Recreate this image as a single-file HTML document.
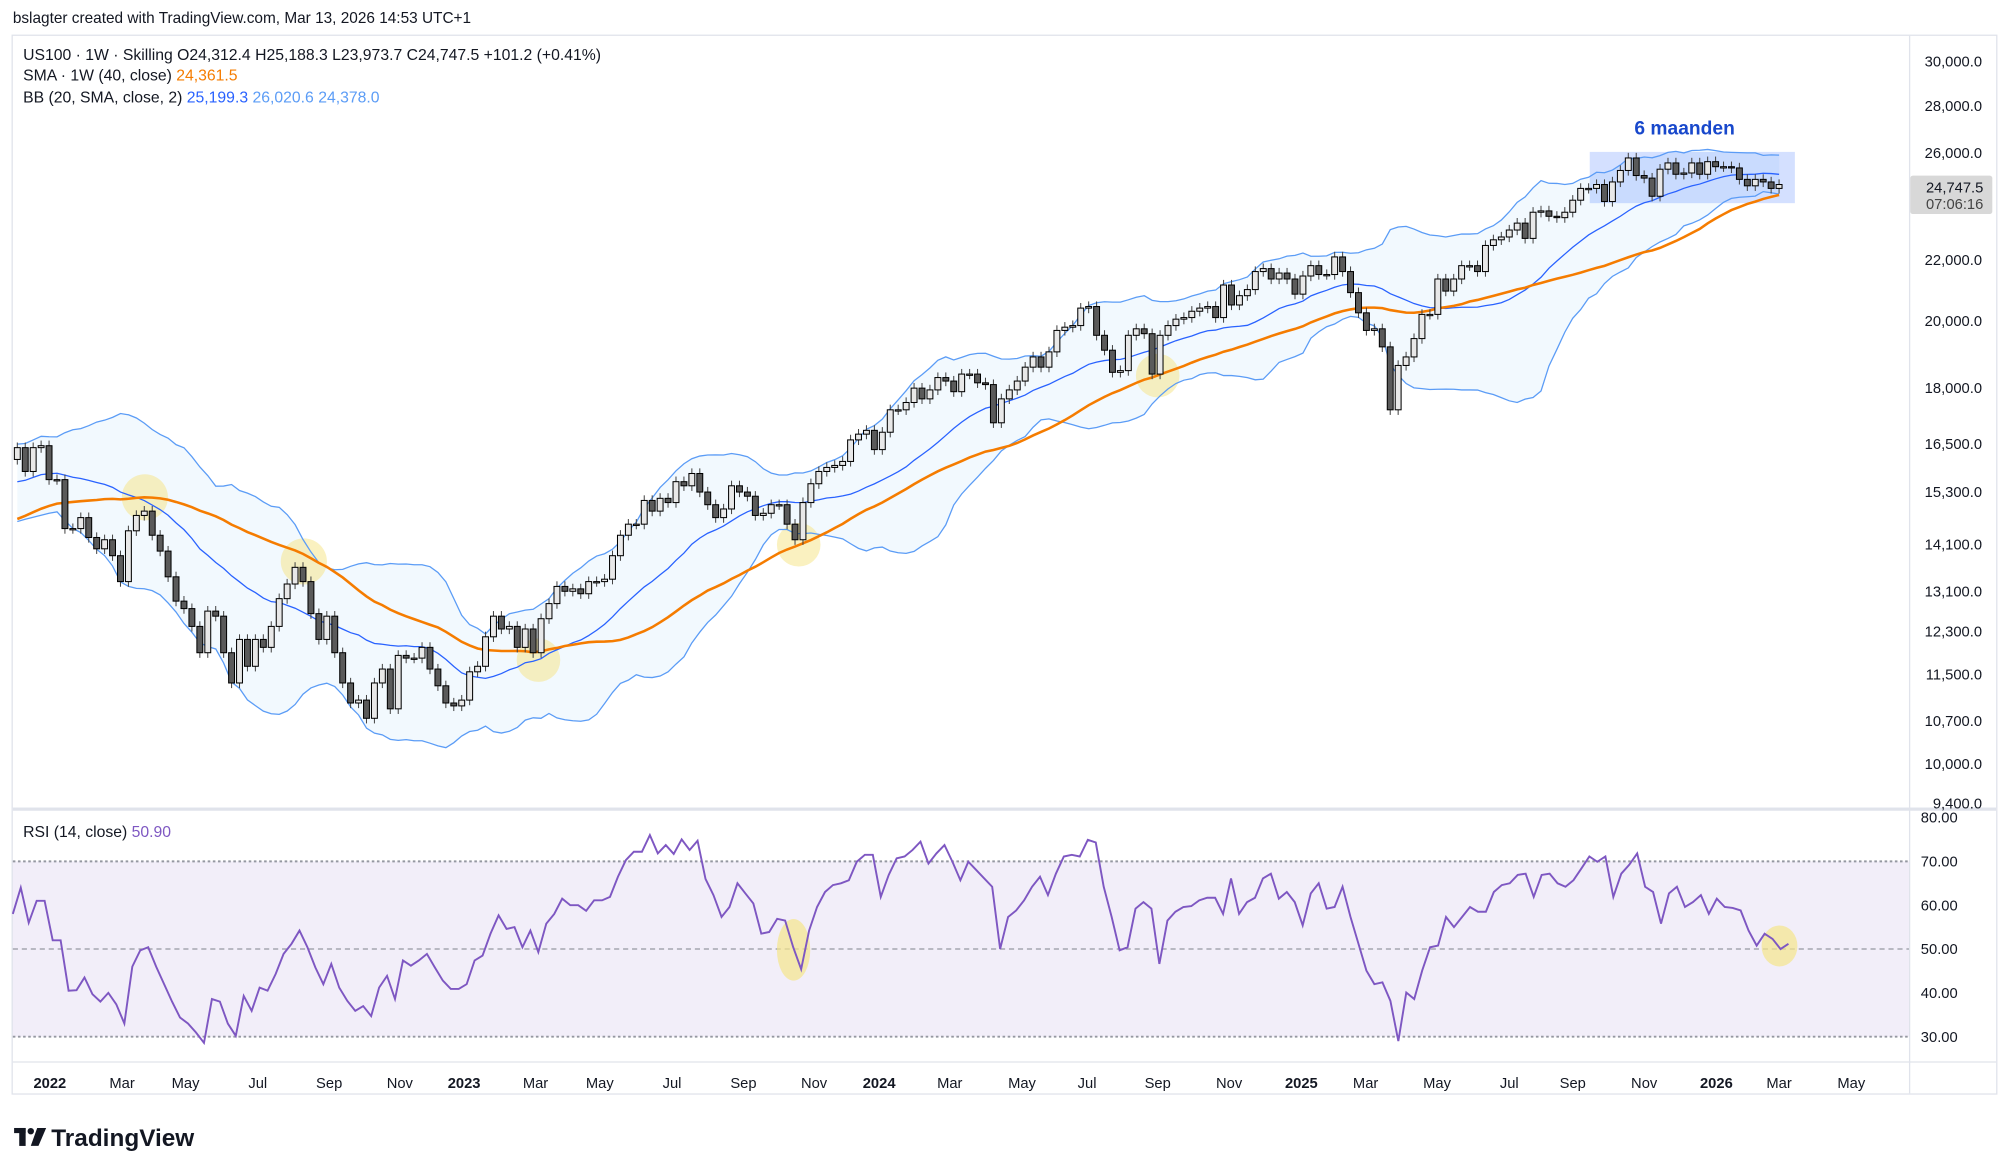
<!DOCTYPE html>
<html><head><meta charset="utf-8"><style>
html,body{margin:0;padding:0;background:#fff;}
svg{display:block;font-family:"Liberation Sans",sans-serif;}
</style></head><body>
<svg id="chart" width="2000" height="1169" viewBox="0 0 1560 912" preserveAspectRatio="none" xmlns="http://www.w3.org/2000/svg">
<rect x="0" y="0" width="1560" height="912" fill="#fff"/>
<text x="10" y="18" font-size="12" fill="#131722">bslagter created with TradingView.com, Mar 13, 2026 14:53 UTC+1</text>
<rect x="9.5" y="27.5" width="1548" height="826" fill="none" stroke="#e0e3eb"/>
<g id="panes"></g>
<text x="18" y="47" font-size="12.3" fill="#131722">US100 · 1W · Skilling  O24,312.4  H25,188.3  L23,973.7  C24,747.5  +101.2 (+0.41%)</text>
<text x="18" y="63" font-size="12.3" fill="#131722">SMA · 1W (40, close)  <tspan fill="#f57c00">24,361.5</tspan></text>
<text x="18" y="80" font-size="12.3" fill="#131722">BB (20, SMA, close, 2)  <tspan fill="#2962ff">25,199.3</tspan>  <tspan fill="#5b9cf6">26,020.6</tspan>  <tspan fill="#5b9cf6">24,378.0</tspan></text>
<text x="18" y="653" font-size="12.3" fill="#131722">RSI (14, close)  <tspan fill="#7e57c2">50.90</tspan></text>
<text x="1314" y="105" font-size="15" font-weight="bold" fill="#1848cc" text-anchor="middle">6 maanden</text>
<g>
<rect x="11" y="880" width="9" height="4" fill="#131722"/><rect x="15" y="880" width="5" height="14" fill="#131722"/><circle cx="24" cy="882.5" r="2.5" fill="#131722"/><polygon points="29,880 36,880 30,894 24,894" fill="#131722"/>
<text x="40" y="894" font-size="19" font-weight="bold" fill="#131722">TradingView</text>
</g>
</svg>
<script>
var preCloses=[12800,13100,13200,13000,13400,13600,13800,13900,13700,13500,13300,13700,13800,13700,14000,14300,14500,14700,14800,14900,15100,15000,15100,15200,15300,15400,15500,15300,15200,15000,15100,15300,15600,15700,16000,16300,16400,16100,16000];
var closes=[16400,15800,16400,16450,15600,15600,14450,14450,14700,14250,14000,14200,13850,13300,14400,14750,14850,14300,13950,13400,12900,12750,12400,11900,12700,12600,11900,11350,12150,11650,12150,12000,12400,12950,13250,13600,13300,12650,12150,12600,11900,11350,11000,11050,10740,11350,11600,10900,11850,11800,11800,12000,11600,11300,11000,10950,11050,11550,11650,12200,12600,12350,12400,12000,12350,11900,12550,12850,13200,13100,13150,13050,13300,13300,13350,13850,14300,14550,14550,15100,14850,15150,15050,15550,15450,15750,15300,15000,14700,14900,15450,15300,15200,14750,14800,15000,15000,14550,14200,15050,15500,15800,15900,15950,16050,16600,16750,16850,16350,16800,17400,17400,17600,18000,17700,17950,18300,18200,17900,18400,18400,18150,18100,17050,17700,17950,18200,18600,18900,18600,19050,19700,19800,19850,20400,20450,19550,19100,18450,18500,19550,19750,19600,18400,19550,19850,20050,20100,20300,20400,20450,20100,21150,20500,20800,21000,21600,21700,21350,21550,21350,20850,21450,21800,21500,21500,22100,21600,20900,20250,19700,19750,19200,17400,18650,18900,19450,20200,20200,21350,20950,21350,21800,21800,21600,22500,22700,22800,23050,23300,22750,23700,23750,23550,23500,23700,24150,24600,24600,24750,24100,24850,25300,25800,25100,25000,24300,25350,25600,25150,25200,25600,25150,25650,25450,25450,25400,24950,24700,24950,24850,24600,24750];
var rsiValues=[58,64,56,61,61,52,52,40.5,40.6,43.5,39.7,38,40,37.4,33,46,49.7,50.4,46,42,38,34.4,33,31,28.6,38.6,38,33,30.2,39.3,35.9,41.2,40.5,44.3,48.9,51.2,54.2,50.4,45.8,42,46.6,41.2,38.2,35.9,37,34.7,41.2,43.9,38.6,47.4,46.2,47.4,48.9,45.8,42.8,40.9,40.9,42,47.4,48.5,53.5,57.7,54.6,55,50.4,54.2,49.3,55.8,58,61.5,60,60,58.7,61.1,61.1,61.9,66.5,70.3,72.2,72.2,76,71.8,73.7,71.7,75,72.6,74.7,66,62.3,57.3,59.6,65,62.7,60.4,53.5,53.9,56.9,56.5,50.4,45.4,54.2,59.6,63,64.6,65,65.7,69.9,71.5,71.5,61.9,66.9,70.7,71.1,72.6,74.5,69.5,71.8,73.7,69.9,65.7,69.9,68,66.1,64.2,50,57.3,58.8,61.1,64.2,66.5,62.3,67.2,71.1,71.5,71.1,74.9,74.3,64.2,57.3,49.7,50.4,59.2,60.7,59.2,46.6,56.5,58.5,59.6,59.8,61.1,61.7,61.7,58,66.1,58,60.7,61.7,66.1,67.2,61.5,63,60.7,55.4,62.7,65,59.2,59.6,64.2,57.3,51.2,45.1,42,42.4,38.2,29,40.1,38.6,45.1,50.4,50.8,57.3,55,57.3,59.6,58.5,58.5,63,64.6,65,66.9,67.2,61.9,66.9,67.2,65,64.2,65.7,68.4,71.1,69.9,71.1,61.9,67.2,69.2,71.8,64.2,63,55.8,62.7,64.2,59.6,60.7,62.3,58,61.5,59.6,59.4,58.8,54.2,50.8,53.5,52.3,50,51.2];
var priceTicks=[30000,28000,26000,22000,20000,18000,16500,15300,14100,13100,12300,11500,10700,10000,9400];
var rsiTicks=[80,70,60,50,40,30];
var timeLabels=["2022","Mar","May","Jul","Sep","Nov","2023","Mar","May","Jul","Sep","Nov","2024","Mar","May","Jul","Sep","Nov","2025","Mar","May","Jul","Sep","Nov","2026","Mar","May"];
var timeLabelWeeks=[4.1,13.2,21.2,30.3,39.3,48.2,56.3,65.3,73.4,82.5,91.5,100.4,108.6,117.5,126.6,134.8,143.7,152.7,161.8,169.9,178.9,188,196,205,214.1,222,231.1];

var NS="http://www.w3.org/2000/svg";
var g=document.getElementById('panes');
function mk(tag,attrs,parent){var e=document.createElementNS(NS,tag);for(var k in attrs)e.setAttribute(k,attrs[k]);(parent||g).appendChild(e);return e;}
var X0=13.5,DX=6.19;
function xOf(i){return X0+i*DX;}
function yP(p){return 48+498.8*(Math.log(30000)-Math.log(p));}
function yR(v){return 672+(70-v)*3.42;}
var rsiDX=(1395-10)/(rsiValues.length-1);
function xR(i){return 10+i*rsiDX;}

var sep1=mk('line',{x1:1489.5,y1:28,x2:1489.5,y2:853,stroke:'#e0e3eb'});


var sep2=mk('rect',{x:10,y:630,width:1547,height:2.5,fill:'#e0e3eb'});


var sep3=mk('line',{x1:10,y1:828.5,x2:1557,y2:828.5,stroke:'#e0e3eb'});



var all=preCloses.concat(closes),N=preCloses.length;
var upB=[],loB=[],midB=[],smaL=[];
for(var i=0;i<closes.length;i++){
  var j=i+N,s=0,s2=0,k;
  for(k=j-19;k<=j;k++){s+=all[k];}
  var m=s/20;for(k=j-19;k<=j;k++){s2+=(all[k]-m)*(all[k]-m);}
  var sd=Math.sqrt(s2/20);
  midB.push(m);upB.push(m+2*sd);loB.push(m-2*sd);
  var tt=0,cc=0;for(k=Math.max(0,j-39);k<=j;k++){tt+=all[k];cc++;}
  smaL.push(tt/cc);
}
function pathOf(arr){return arr.map(function(v,i){return (i?'L':'M')+xOf(i).toFixed(1)+' '+yP(v).toFixed(1);}).join(' ');}
var fillD=pathOf(upB)+' '+loB.slice().reverse().map(function(v,i){return 'L'+xOf(loB.length-1-i).toFixed(1)+' '+yP(v).toFixed(1);}).join(' ')+' Z';
var bbf=mk('path',{d:fillD,fill:'rgba(33,150,243,0.06)'});



var hl=[[113,388,18],[237,438,18],[420,515,17],[623,425,17],[903,293,17]];
hl.forEach(function(h){var c=mk('circle',{cx:h[0],cy:h[1],r:h[2],fill:'rgba(245,230,140,0.55)'});

});

var rr=mk('rect',{x:1240,y:118.5,width:160,height:40,fill:'rgba(41,98,255,0.2)'});



var bu=mk('path',{d:pathOf(upB),fill:'none',stroke:'#5b9cf6','stroke-width':1});


var bl=mk('path',{d:pathOf(loB),fill:'none',stroke:'#5b9cf6','stroke-width':1});


var bm=mk('path',{d:pathOf(midB),fill:'none',stroke:'#2962ff','stroke-width':1});


var sm=mk('path',{d:pathOf(smaL),fill:'none',stroke:'#f57c00','stroke-width':2});



for(i=0;i<closes.length;i++){
  var o=i?closes[i-1]:16100,cl=closes[i];
  var yo=yP(o),yc=yP(cl),bTop=Math.min(yo,yc),bBot=Math.max(yo,yc),cx=xOf(i);
  var w=mk('line',{x1:cx,y1:bTop-4,x2:cx,y2:bBot+4,stroke:'#444','stroke-width':0.8});
  
  
  var b=mk('rect',{x:cx-2.3,y:bTop,width:4.6,height:Math.max(bBot-bTop,1),fill:cl>=o?'#e8e8e8':'#5a5a5a',stroke:'#000','stroke-width':0.8});
  
  
}

priceTicks.forEach(function(p){var t=mk('text',{x:1546,y:yP(p)+4,'font-size':11.5,fill:'#131722','text-anchor':'end'});t.textContent=p.toLocaleString('en-US',{minimumFractionDigits:1,maximumFractionDigits:1});

});
var lb=mk('rect',{x:1490,y:137,width:64,height:30,rx:2,fill:'#d8d8d8'});


var lt=mk('text',{x:1547,y:150,'font-size':11.5,fill:'#131722','text-anchor':'end'});lt.textContent='24,747.5';


var ct=mk('text',{x:1547,y:163,'font-size':11.5,fill:'#444','text-anchor':'end'});ct.textContent='07:06:16';



var rb=mk('rect',{x:10,y:yR(70),width:1479,height:yR(30)-yR(70),fill:'rgba(126,87,194,0.1)'});


[70,50,30].forEach(function(v){var l=mk('line',{x1:10,y1:yR(v),x2:1489,y2:yR(v),stroke:'#9598a1','stroke-dasharray':v==50?'4 3':'2 2','stroke-width':v==50?1:1.5});

});
[[619,741,13,24],[1388,738,14,16]].forEach(function(h){var e=mk('ellipse',{cx:h[0],cy:h[1],rx:h[2],ry:h[3],fill:'rgba(245,230,140,0.7)'});

});
var rp=mk('path',{d:rsiValues.map(function(v,i){return (i?'L':'M')+xR(i).toFixed(1)+' '+yR(v).toFixed(1);}).join(' '),fill:'none',stroke:'#7e57c2','stroke-width':1.5});


rsiTicks.forEach(function(v){var t=mk('text',{x:1527,y:yR(v)+4,'font-size':11.5,fill:'#131722','text-anchor':'end'});t.textContent=v.toFixed(2);

});

timeLabels.forEach(function(s,i){var yr=/^\d{4}$/.test(s);var t=mk('text',{x:xOf(timeLabelWeeks[i]),y:849,'font-size':11.5,fill:'#131722','text-anchor':'middle','font-weight':yr?'bold':'normal'});t.textContent=s;

});
</script>
</body></html>
